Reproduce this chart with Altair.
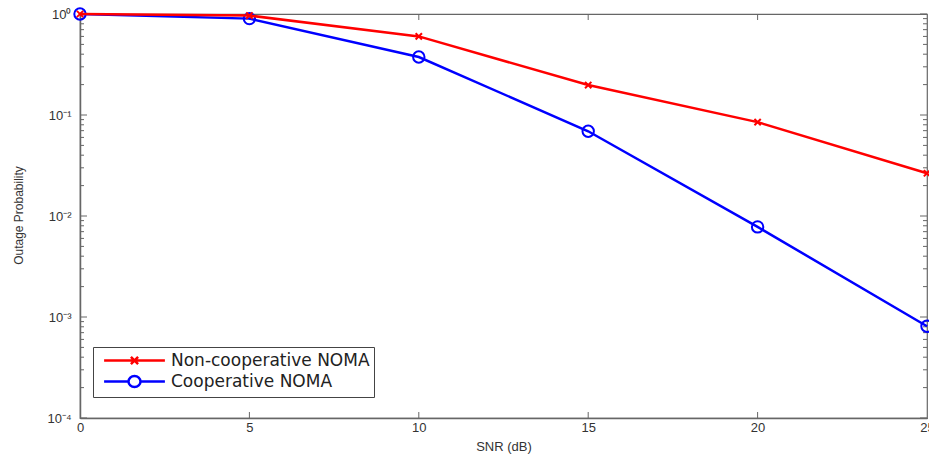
import altair as alt
import pandas as pd

# ---- data ----
snr = [0, 5, 10, 15, 20, 25]
non_coop = [1.0, 0.965, 0.60, 0.198, 0.085, 0.0265]
coop = [1.0, 0.90, 0.375, 0.069, 0.0078, 0.00081]
series_names = ["Non-cooperative NOMA", "Cooperative NOMA"]
series_colors = ["#ff0000", "#0000ff"]

y_labels_vals = [1e-4, 1e-3, 1e-2, 1e-1, 1.0]
y_minor_vals = [k * 10.0 ** d for d in range(-4, 0) for k in range(2, 10)]
x_tick_vals = [5, 10, 15, 20]
x_label_vals = [0, 5, 10, 15, 20, 25]

W, H = 847, 404

df = pd.DataFrame({
    "snr": snr * 2,
    "p": non_coop + coop,
    "series": [series_names[0]] * len(snr) + [series_names[1]] * len(snr),
})
red_df = df[df.series == series_names[0]]
blue_df = df[df.series == series_names[1]]

xscale = alt.Scale(domain=[0, 25], nice=False, zero=False)
yscale = alt.Scale(type="log", domain=[1e-4, 1], nice=False)

X_PATH = "M-1,-1L1,1M-1,1L1,-1"
# legend glyphs: line with marker, drawn in units of sqrt(size)/2
LEG_X = "M-3.8,0H3.8M-0.45,-0.45L0.45,0.45M-0.45,0.45L0.45,-0.45"
LEG_O = "M-3.8,0H-0.75M0.75,0H3.8M0.75,0A0.75,0.7 0 1 1 -0.75,0A0.75,0.7 0 1 1 0.75,0"

sup = ("'10' + (round(log(datum.value)/LN10) == 0 ? '⁰' : "
       "round(log(datum.value)/LN10) == -1 ? '⁻¹' : "
       "round(log(datum.value)/LN10) == -2 ? '⁻²' : "
       "round(log(datum.value)/LN10) == -3 ? '⁻³' : '⁻⁴')")

x_axis = alt.Axis(values=x_label_vals, ticks=False, grid=False, labelFlush=False,
                  labelFont="Liberation Sans", labelFontSize=13, labelColor="#333",
                  labelPadding=3, domainColor="#666", domainWidth=1.5,
                  title="SNR (dB)", titleFont="Liberation Sans", titleFontSize=13,
                  titleFontWeight="normal", titleColor="#333", titleBaseline="middle",
                  titleY=28)
y_axis = alt.Axis(values=y_labels_vals, ticks=False, grid=False, labelExpr=sup,
                  labelFont="Liberation Sans", labelFontSize=13, labelColor="#333",
                  labelPadding=9, domainColor="#666", domainWidth=1.5,
                  title="Outage Probability", titleFont="Liberation Sans", titleFontSize=12,
                  titleFontWeight="normal", titleColor="#333", titleBaseline="middle",
                  titleX=-62, titleY=201, titleAngle=-90)

blue_line = alt.Chart(blue_df).mark_line(color="#0000ff", strokeWidth=2.5).encode(
    x=alt.X("snr:Q", scale=xscale, axis=x_axis),
    y=alt.Y("p:Q", scale=yscale, axis=y_axis),
)
blue_pts = alt.Chart(blue_df).mark_point(shape="circle", filled=False, color="#0000ff",
                                         size=130, strokeWidth=2, opacity=1).encode(
    x=alt.X("snr:Q", scale=xscale), y=alt.Y("p:Q", scale=yscale))
red_line = alt.Chart(red_df).mark_line(color="#ff0000", strokeWidth=2.5).encode(
    x=alt.X("snr:Q", scale=xscale), y=alt.Y("p:Q", scale=yscale))
red_pts = alt.Chart(red_df).mark_point(shape=X_PATH, filled=False, color="#ff0000",
                                       size=40, strokeWidth=2, opacity=1).encode(
    x=alt.X("snr:Q", scale=xscale), y=alt.Y("p:Q", scale=yscale))

# legend layer (no visible data, explicit domains)
legend = alt.Legend(title=None, orient="none", legendX=13, legendY=333,
                    symbolSize=256, symbolStrokeWidth=2.5, symbolOffset=28,
                    labelFont="DejaVu Sans", labelFontSize=17, labelColor="#222",
                    labelLimit=400, labelOffset=27,
                    strokeColor="#444", fillColor="white", padding=4, rowPadding=0)
legend_layer = alt.Chart(df).transform_filter("datum.snr < -100").mark_point(
    filled=False, opacity=1).encode(
    x=alt.X("snr:Q", scale=xscale), y=alt.Y("p:Q", scale=yscale),
    color=alt.Color("series:N", scale=alt.Scale(domain=series_names, range=series_colors),
                    legend=legend),
    shape=alt.Shape("series:N", scale=alt.Scale(domain=series_names, range=[LEG_X, LEG_O]),
                    legend=legend),
)

# inward ticks (MATLAB style)
ymaj = pd.DataFrame({"v": y_labels_vals})
ymin = pd.DataFrame({"v": y_minor_vals})
xt = pd.DataFrame({"v": x_tick_vals})
tick_color = "#666"

def yticks(data, x1, x2):
    return alt.Chart(data).mark_rule(color=tick_color, strokeWidth=1).encode(
        y=alt.Y("v:Q", scale=yscale), x=alt.value(x1), x2=alt.value(x2))

def xticks(y1, y2):
    return alt.Chart(xt).mark_rule(color=tick_color, strokeWidth=1).encode(
        x=alt.X("v:Q", scale=xscale), y=alt.value(y1), y2=alt.value(y2))

ticks = [yticks(ymaj, 0, 7), yticks(ymin, 0, 4), yticks(ymaj, W, W - 7), yticks(ymin, W, W - 4),
         xticks(H, H - 6), xticks(0, 6)]

chart = alt.layer(*ticks, blue_line, blue_pts, red_line, red_pts, legend_layer).properties(
    width=W, height=H,
    padding={"left": 80, "top": 14, "right": 2, "bottom": 36},
    autosize=alt.AutoSizeParams(type="none"),
    background="white",
).configure_view(stroke="#666", strokeWidth=1.2)

chart.save("out.html", embed_options={"renderer": "svg", "actions": False})
